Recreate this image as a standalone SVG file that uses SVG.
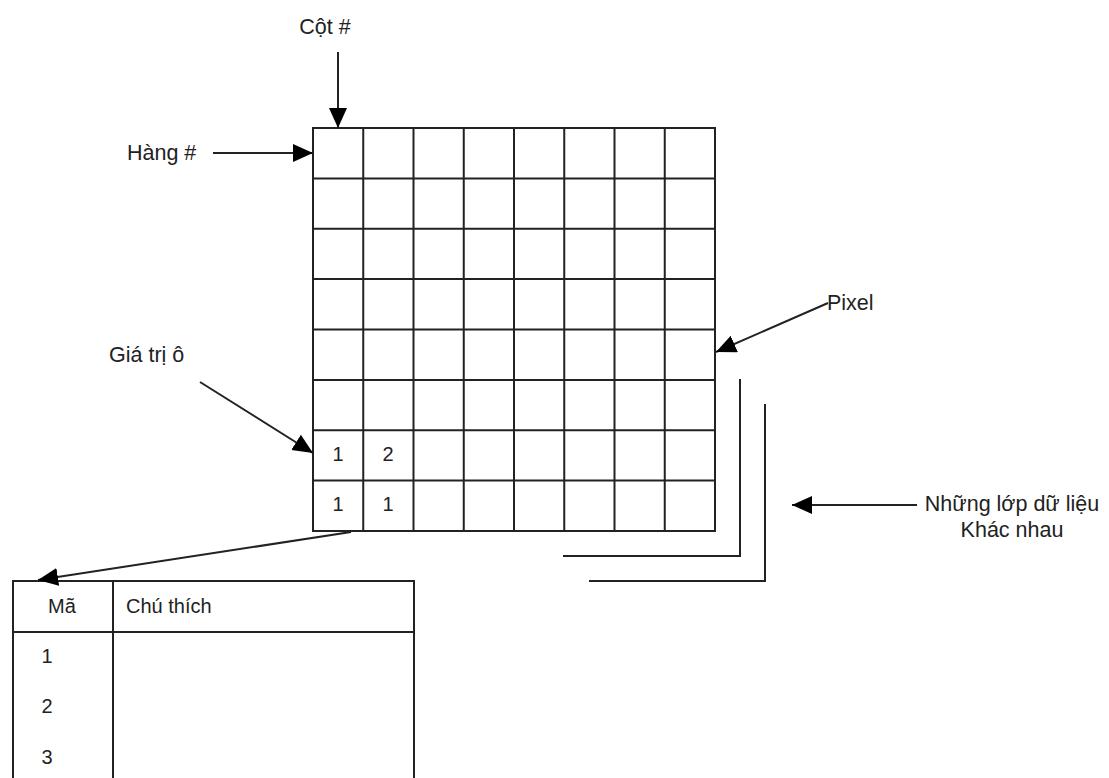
<svg xmlns="http://www.w3.org/2000/svg" width="1109" height="778" viewBox="0 0 1109 778">
<style>
text{font-family:"Liberation Sans",Arial,sans-serif;fill:#222;}
.lbl{font-size:21.5px;}
.num{font-size:20px;}
.tb{font-size:20px;}
.ln{stroke:#222;stroke-width:2;fill:none;}
.conn{stroke:#222;stroke-width:2;fill:none;marker-end:url(#ah);}
</style>
<defs>
<marker id="ah" markerUnits="userSpaceOnUse" markerWidth="20" markerHeight="20" refX="20" refY="9" orient="auto">
<path d="M0,0 L20,9 L0,18 Z" fill="#000"/>
</marker>
</defs>
<rect width="1109" height="778" fill="#fff"/>
<g id="grid">
<rect x="313" y="128" width="402" height="403" class="ln"/>
<path class="ln" d="M363.25,128V531M413.5,128V531M463.75,128V531M514,128V531M564.25,128V531M614.5,128V531M664.75,128V531M313,178.4H715M313,228.75H715M313,279.1H715M313,329.5H715M313,379.9H715M313,430.25H715M313,480.6H715"/>
<text class="num" x="338" y="461" text-anchor="middle">1</text>
<text class="num" x="388" y="461" text-anchor="middle">2</text>
<text class="num" x="338" y="511" text-anchor="middle">1</text>
<text class="num" x="388" y="511" text-anchor="middle">1</text>
</g>
<g id="layers">
<path class="ln" d="M740,379V556H563"/>
<path class="ln" d="M765,404V581H589"/>
</g>
<g id="table">
<path class="ln" d="M13,778V581H414V778M13,632H414M113,581V778"/>
<text class="tb" x="62" y="613" text-anchor="middle">Mã</text>
<text class="tb" x="126" y="613">Chú thích</text>
<text class="tb" x="47" y="663" text-anchor="middle">1</text>
<text class="tb" x="47" y="713" text-anchor="middle">2</text>
<text class="tb" x="47" y="764" text-anchor="middle">3</text>
</g>
<g id="labels">
<text id="cot" class="lbl" x="325" y="34" text-anchor="middle">Cột #</text>
<text id="hang" class="lbl" x="127" y="160">Hàng #</text>
<text id="pixel" class="lbl" x="827" y="310">Pixel</text>
<text id="giatri" class="lbl" x="109" y="362">Giá trị ô</text>
<text id="lop" class="lbl" x="1012" y="511" text-anchor="middle">Những lớp dữ liệu</text>
<text class="lbl" x="1012" y="537" text-anchor="middle">Khác nhau</text>
</g>
<g id="connectors">
<line class="conn" x1="338" y1="52" x2="338" y2="128"/>
<line class="conn" x1="213" y1="153" x2="313" y2="153"/>
<line class="conn" x1="828" y1="303" x2="716" y2="352"/>
<line class="conn" x1="200" y1="382" x2="313" y2="453"/>
<line class="conn" x1="917" y1="505" x2="792" y2="505"/>
<line class="conn" x1="351" y1="532" x2="38" y2="580"/>
</g>
</svg>
